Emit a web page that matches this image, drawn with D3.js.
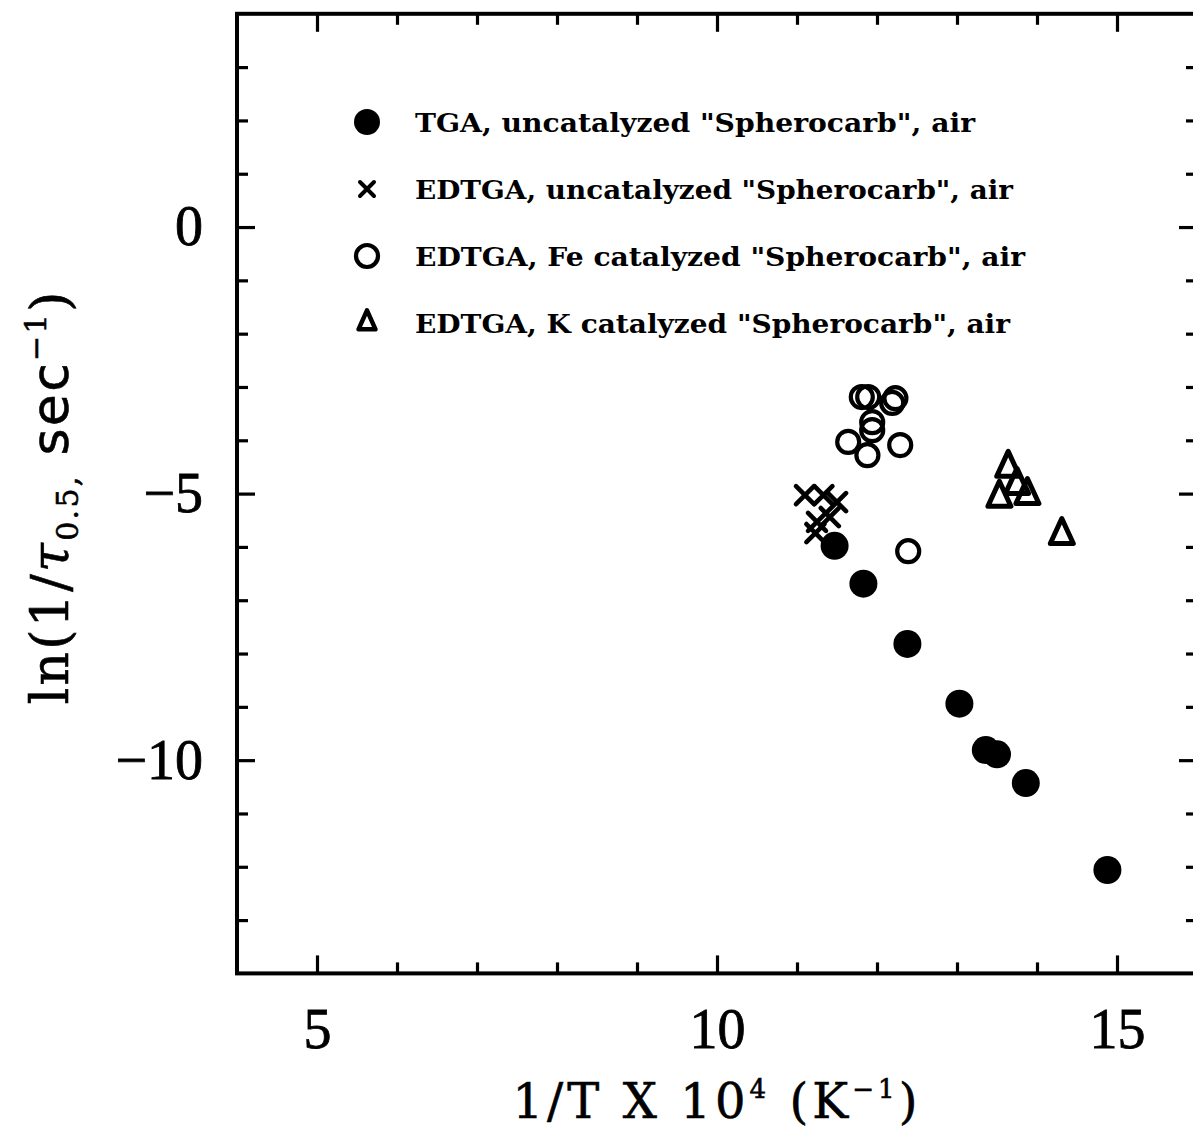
<!DOCTYPE html>
<html>
<head>
<meta charset="utf-8">
<script src="https://cdn.jsdelivr.net/npm/d3@7"></script>
<style>
  body { margin: 0; background: #fff; }
  svg { display: block; }
</style>
</head>
<body>
<svg id="chart" width="1193" height="1133"></svg>
<script>
// Half-conversion rate of "Spherocarb" in air versus inverse temperature.
// x: 1/T x 10^4 (K^-1), y: ln(1/tau_0.5, sec^-1)

const tgaUncatX = [11.47, 11.83, 12.38, 13.03, 13.36, 13.50, 13.86, 14.88];
const tgaUncatY = [-5.98, -6.69, -7.82, -8.94, -9.81, -9.89, -10.43, -12.06];

const edtgaUncatX = [11.10, 11.33, 11.50, 11.41, 11.25, 11.23];
const edtgaUncatY = [-5.03, -5.03, -5.16, -5.44, -5.53, -5.74];

const edtgaFeX = [11.81, 11.89, 12.23, 12.19, 11.94, 11.94, 11.64, 12.29, 11.88, 12.39];
const edtgaFeY = [-3.19, -3.19, -3.21, -3.30, -3.66, -3.81, -4.03, -4.09, -4.28, -6.08];

const edtgaKX = [13.64, 13.53, 13.75, 13.88, 14.31];
const edtgaKY = [-4.52, -5.08, -4.84, -5.03, -5.78];

const legendLabels = [
  'TGA, uncatalyzed "Spherocarb", air',
  'EDTGA, uncatalyzed "Spherocarb", air',
  'EDTGA, Fe catalyzed "Spherocarb", air',
  'EDTGA, K catalyzed "Spherocarb", air'
];
const legendSymbols = ["filled", "cross", "open", "triangle"];

const xMajorTicks = [5, 10, 15];
const xMinorTicks = [6, 7, 8, 9, 11, 12, 13, 14];
const yMajorTicks = [0, -5, -10];
const yMinorTicks = [3, 2, 1, -1, -2, -3, -4, -6, -7, -8, -9, -11, -12, -13];

const svg = d3.select("#chart");

const x = d3.scaleLinear().domain([4, 16]).range([237, 1197]);
const y = d3.scaleLinear().domain([4, -14]).range([13.8, 973.4]);

const ink = "#000";
const tickFont = "'Liberation Serif', 'Times New Roman', serif";

// ---- frame ----
svg.append("rect")
  .attr("x", x(4)).attr("y", y(4))
  .attr("width", x(16) - x(4)).attr("height", y(-14) - y(4))
  .attr("fill", "none").attr("stroke", ink).attr("stroke-width", 4);

function styleAxis(g) {
  g.select(".domain").remove();
  g.selectAll(".tick line").attr("stroke", ink).attr("stroke-width", 3.2);
  g.selectAll(".tick text")
    .attr("fill", ink)
    .attr("stroke", ink).attr("stroke-width", 0.8)
    .style("font-family", tickFont)
    .style("font-size", "56px");
}

const majorLen = 18, minorLen = 11;

// bottom axis with labels
svg.append("g").attr("transform", `translate(0,${y(-14)})`)
  .call(d3.axisBottom(x).tickValues(xMajorTicks).tickSize(-majorLen).tickPadding(35).tickFormat(d3.format("d")))
  .call(styleAxis);
svg.append("g").attr("transform", `translate(0,${y(-14)})`)
  .call(d3.axisBottom(x).tickValues(xMinorTicks).tickSize(-minorLen).tickFormat(""))
  .call(styleAxis);

// top axis (ticks only)
svg.append("g").attr("transform", `translate(0,${y(4)})`)
  .call(d3.axisTop(x).tickValues(xMajorTicks).tickSize(-majorLen).tickFormat(""))
  .call(styleAxis);
svg.append("g").attr("transform", `translate(0,${y(4)})`)
  .call(d3.axisTop(x).tickValues(xMinorTicks).tickSize(-minorLen).tickFormat(""))
  .call(styleAxis);

// left axis with labels
svg.append("g").attr("transform", `translate(${x(4)},0)`)
  .call(d3.axisLeft(y).tickValues(yMajorTicks).tickSize(-majorLen).tickPadding(34).tickFormat(d3.format("d")))
  .call(styleAxis);
svg.append("g").attr("transform", `translate(${x(4)},0)`)
  .call(d3.axisLeft(y).tickValues(yMinorTicks).tickSize(-minorLen).tickFormat(""))
  .call(styleAxis);

// right axis (ticks only)
svg.append("g").attr("transform", `translate(${x(16)},0)`)
  .call(d3.axisRight(y).tickValues(yMajorTicks).tickSize(-majorLen).tickFormat(""))
  .call(styleAxis);
svg.append("g").attr("transform", `translate(${x(16)},0)`)
  .call(d3.axisRight(y).tickValues(yMinorTicks).tickSize(-minorLen).tickFormat(""))
  .call(styleAxis);

// ---- markers ----
function drawSymbol(g, kind, cx, cy, opt = {}) {
  if (kind === "filled") {
    g.append("circle").attr("cx", cx).attr("cy", cy).attr("r", opt.r || 14).attr("fill", ink);
  } else if (kind === "open") {
    g.append("circle").attr("cx", cx).attr("cy", cy).attr("r", opt.r || 11)
      .attr("fill", "none").attr("stroke", ink).attr("stroke-width", 4.2);
  } else if (kind === "cross") {
    const h = opt.half || 9;
    const p = d3.path();
    p.moveTo(cx - h, cy - h); p.lineTo(cx + h, cy + h);
    p.moveTo(cx - h, cy + h); p.lineTo(cx + h, cy - h);
    g.append("path").attr("d", p.toString()).attr("fill", "none")
      .attr("stroke", ink).attr("stroke-width", opt.sw || 4.6).attr("stroke-linecap", "round");
  } else if (kind === "triangle") {
    const w = opt.w || 23, hh = opt.h || 25;
    const p = d3.path();
    p.moveTo(cx, cy - hh * 2 / 3);
    p.lineTo(cx + w / 2, cy + hh / 3);
    p.lineTo(cx - w / 2, cy + hh / 3);
    p.closePath();
    g.append("path").attr("d", p.toString()).attr("fill", "none")
      .attr("stroke", ink).attr("stroke-width", opt.sw || 5).attr("stroke-linejoin", "round");
  }
}

const series = [
  { kind: "filled",   xs: tgaUncatX,   ys: tgaUncatY },
  { kind: "cross",    xs: edtgaUncatX, ys: edtgaUncatY },
  { kind: "open",     xs: edtgaFeX,    ys: edtgaFeY },
  { kind: "triangle", xs: edtgaKX,     ys: edtgaKY }
];

const marks = svg.append("g").attr("class", "marks");
series.forEach(s => {
  const g = marks.append("g");
  s.xs.forEach((v, i) => drawSymbol(g, s.kind, x(v), y(s.ys[i])));
});

// ---- legend ----
const legendRowY = [122, 189, 256, 323];
const legendTextEnd = [975, 1013, 1025, 1010];
const legendSymOpts = [{ r: 13 }, { half: 7, sw: 4 }, { r: 11 }, { w: 17, h: 19, sw: 4.5 }];
const legendSymX = 367, legendTextX = 415;
const legend = svg.append("g").attr("class", "legend");
legendLabels.forEach((lab, i) => {
  const g = legend.append("g");
  drawSymbol(g, legendSymbols[i], legendSymX, legendRowY[i], legendSymOpts[i]);
  g.append("text")
    .attr("x", legendTextX).attr("y", legendRowY[i] + 10)
    .attr("textLength", legendTextEnd[i] - legendTextX)
    .attr("lengthAdjust", "spacingAndGlyphs")
    .style("font-family", "'DejaVu Serif', serif")
    .style("font-weight", "bold")
    .style("font-size", "26px")
    .attr("fill", ink)
    .text(lab);
});

// ---- axis titles ----
function fitSpacing(textSel, target) {
  const node = textSel.node();
  const n = node.getNumberOfChars();
  const natural = node.getComputedTextLength();
  textSel.style("letter-spacing", ((target - natural) / n) + "px");
}

const xTitle = svg.append("text")
  .attr("x", 717).attr("y", 1118)
  .attr("text-anchor", "middle")
  .style("font-family", "'DejaVu Serif', serif")
  .style("font-size", "48px")
  .attr("fill", ink).attr("stroke", ink).attr("stroke-width", 0.6);
xTitle.append("tspan").text("1/T X 10");
xTitle.append("tspan").attr("dy", -20).style("font-size", "26px").text("4");
xTitle.append("tspan").attr("dy", 20).text(" (K");
xTitle.append("tspan").attr("dy", -20).style("font-size", "26px").text("\u22121");
xTitle.append("tspan").attr("dy", 20).text(")");
fitSpacing(xTitle, 409);

const yTitle = svg.append("text")
  .attr("transform", "translate(68,497) rotate(-90)")
  .attr("text-anchor", "middle")
  .style("font-family", "'DejaVu Serif', serif")
  .style("font-size", "52px")
  .attr("fill", ink).attr("stroke", ink).attr("stroke-width", 0.6);
yTitle.append("tspan").text("ln(1/");
yTitle.append("tspan").style("font-style", "italic").text("\u03c4");
yTitle.append("tspan").attr("dy", 10).style("font-size", "30px").text("0.5,");
yTitle.append("tspan").attr("dy", -10).text("  ");
yTitle.append("tspan").style("font-family", "'DejaVu Sans', sans-serif").text("sec");
yTitle.append("tspan").attr("dy", -22).style("font-size", "30px").text("\u22121");
yTitle.append("tspan").attr("dy", 22).text(")");
fitSpacing(yTitle, 415);
</script>
</body>
</html>
